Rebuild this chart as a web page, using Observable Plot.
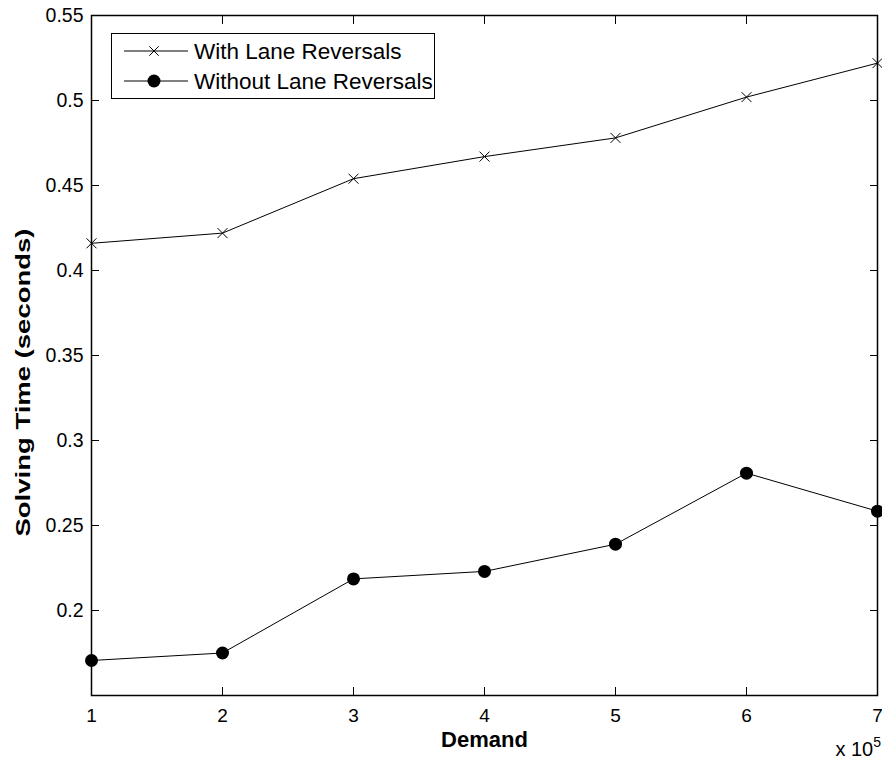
<!DOCTYPE html>
<html>
<head>
<meta charset="utf-8">
<script src="https://cdn.jsdelivr.net/npm/d3@7"></script>
<script src="https://cdn.jsdelivr.net/npm/@observablehq/plot@0.6"></script>
<style>
  html, body { margin: 0; padding: 0; background: #fff; }
  #wrap { position: relative; width: 882px; height: 764px; font-family: "Liberation Sans", Arial, Helvetica, sans-serif; }
  #legend { position: absolute; left: 111px; top: 33px; width: 324px; height: 66px; border: 1.3px solid #000; background: #fff; box-sizing: border-box; }
  #legend svg { position: absolute; left: 0; top: 0; }
  .exp { position: absolute; right: 1px; top: 737px; font-size: 20px; line-height: 24px; white-space: nowrap; }
</style>
</head>
<body>
<div id="wrap"></div>
<script>
const demand = [1, 2, 3, 4, 5, 6, 7];
const withLaneReversals = [0.416, 0.422, 0.454, 0.467, 0.478, 0.502, 0.522];
const withoutLaneReversals = [0.1706, 0.175, 0.2186, 0.223, 0.239, 0.2808, 0.2584];
const xTicks = [1, 2, 3, 4, 5, 6, 7];
const yTicks = [0.2, 0.25, 0.3, 0.35, 0.4, 0.45, 0.5, 0.55];
const seriesNames = ["With Lane Reversals", "Without Lane Reversals"];
const xLabel = "Demand";
const yLabel = "Solving Time (seconds)";

const rowsWith = demand.map((d, i) => ({x: d, y: withLaneReversals[i]}));
const rowsWithout = demand.map((d, i) => ({x: d, y: withoutLaneReversals[i]}));

const fmtY = d => String(+d.toFixed(2));

const chart = Plot.plot({
  width: 882,
  height: 764,
  marginLeft: 91,
  marginRight: 5,
  marginTop: 15,
  marginBottom: 69,
  x: {domain: [1, 7]},
  y: {domain: [0.15, 0.55]},
  style: {fontFamily: "'Liberation Sans', Arial, Helvetica, sans-serif", fontSize: "19px", color: "#000", background: "#fff"},
  marks: [
    Plot.axisX({ticks: xTicks, tickSize: -8, tickPadding: 21, tickFormat: d => String(d), label: null, fontSize: 19}),
    Plot.axisX({anchor: "top", ticks: xTicks, tickSize: -8, tickFormat: () => "", label: null}),
    Plot.axisY({ticks: yTicks, tickSize: -8, tickPadding: 16, tickFormat: fmtY, label: null, fontSize: 19.5}),
    Plot.axisY({anchor: "right", ticks: yTicks, tickSize: -8, tickFormat: () => "", label: null}),
    Plot.frame({stroke: "#000", strokeWidth: 1.5}),
    Plot.line(rowsWith, {x: "x", y: "y", stroke: "#000", strokeWidth: 1}),
    Plot.dot(rowsWith, {x: "x", y: "y", symbol: "times", r: 4.6, stroke: "#000", strokeWidth: 1}),
    Plot.line(rowsWithout, {x: "x", y: "y", stroke: "#000", strokeWidth: 1}),
    Plot.dot(rowsWithout, {x: "x", y: "y", r: 6.5, fill: "#000", stroke: "none"}),
    Plot.text([xLabel], {frameAnchor: "bottom", dy: 51, fontWeight: "bold", fontSize: 22}),
    Plot.text([yLabel], {frameAnchor: "left", textAnchor: "middle", lineAnchor: "middle", rotate: -90, dx: -68, dy: 27, fontWeight: "bold", fontSize: 21})
  ]
});

// stretch the rotated y label along its length to match the reference
d3.select(chart).selectAll("text").each(function() {
  if (this.textContent === yLabel) {
    this.setAttribute("textLength", 308);
    this.setAttribute("lengthAdjust", "spacingAndGlyphs");
  }
});

const wrap = document.getElementById("wrap");
wrap.appendChild(chart);

const exp = document.createElement("div");
exp.className = "exp";
exp.innerHTML = "x 10<span style='font-size:14px;position:relative;top:-9px'>5</span>";
wrap.appendChild(exp);

// Legend
const legend = document.createElement("div");
legend.id = "legend";
const ns = "http://www.w3.org/2000/svg";
const svg = document.createElementNS(ns, "svg");
svg.setAttribute("width", 324);
svg.setAttribute("height", 66);
seriesNames.forEach((name, i) => {
  const cy = 17 + i * 30;
  const ln = document.createElementNS(ns, "line");
  ln.setAttribute("x1", 12); ln.setAttribute("x2", 76);
  ln.setAttribute("y1", cy); ln.setAttribute("y2", cy);
  ln.setAttribute("stroke", "#000"); ln.setAttribute("stroke-width", 1);
  svg.appendChild(ln);
  if (i === 0) {
    const p = document.createElementNS(ns, "path");
    p.setAttribute("d", `M${42-4.7},${cy-4.7}L${42+4.7},${cy+4.7}M${42-4.7},${cy+4.7}L${42+4.7},${cy-4.7}`);
    p.setAttribute("stroke", "#000"); p.setAttribute("stroke-width", 1);
    svg.appendChild(p);
  } else {
    const c = document.createElementNS(ns, "circle");
    c.setAttribute("cx", 42); c.setAttribute("cy", cy); c.setAttribute("r", 6.5);
    c.setAttribute("fill", "#000");
    svg.appendChild(c);
  }
  const t = document.createElementNS(ns, "text");
  t.setAttribute("x", 82); t.setAttribute("y", cy + 8);
  t.setAttribute("font-size", 22.5);
  t.setAttribute("font-family", "'Liberation Sans', Arial, Helvetica, sans-serif");
  t.textContent = name;
  svg.appendChild(t);
});
legend.appendChild(svg);
wrap.appendChild(legend);
</script>
</body>
</html>
